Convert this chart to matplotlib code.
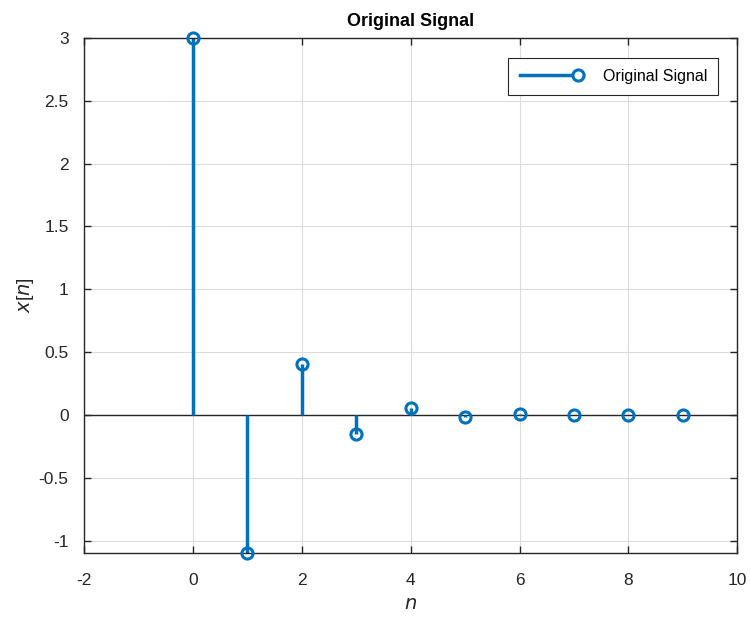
import matplotlib
matplotlib.use("Agg")
import matplotlib.pyplot as plt
from matplotlib.legend_handler import HandlerBase
from matplotlib.lines import Line2D

plt.rcParams["font.family"] = ["Liberation Sans", "DejaVu Sans"]
plt.rcParams["axes.unicode_minus"] = False

BLUE = "#0072BD"
DARK = "#262626"

n = [0, 1, 2, 3, 4, 5, 6, 7, 8, 9]
x = [3.0, -1.1, 0.406, -0.149, 0.054, -0.02, 0.0073, -0.0027, 0.001, -0.0004]


class LineMarkerEnd(HandlerBase):
    # MATLAB-style legend entry: line with the marker at its right end
    def create_artists(self, legend, orig_handle, xdescent, ydescent,
                       width, height, fontsize, trans):
        y = height / 2 - ydescent
        line = Line2D([-xdescent, width - xdescent], [y, y],
                      color=BLUE, lw=2.5, transform=trans)
        mark = Line2D([width - xdescent - 4], [y], marker="o", ms=8,
                      mfc="white", mec=BLUE, mew=2.2, transform=trans)
        return [line, mark]


fig = plt.figure(figsize=(7.5, 6.18), dpi=100)
ax = fig.add_axes([0.112, 0.105, 0.871, 0.8335])

markerline, stemlines, baseline = ax.stem(n, x)
plt.setp(stemlines, color=BLUE, linewidth=2.5)
plt.setp(markerline, color=BLUE, marker="o", markersize=8,
         markerfacecolor="none", markeredgewidth=2.2, clip_on=False,
         zorder=5)
stemlines.set_clip_on(False)
baseline.set_visible(False)
ax.axhline(0, color=DARK, lw=1.0, zorder=1)

ax.set_xlim(-2, 10)
ax.set_ylim(-1.1, 3)
ax.set_xticks(range(-2, 11, 2))
ax.set_yticks([-1, -0.5, 0, 0.5, 1, 1.5, 2, 2.5, 3])
ax.set_yticklabels(["-1", "-0.5", "0", "0.5", "1", "1.5", "2", "2.5", "3"])

ax.grid(True, color="#dcdcdc", lw=0.8)
ax.set_axisbelow(True)
ax.tick_params(direction="in", length=5, width=1, labelsize=12.5,
               colors=DARK, top=True, right=True)
ax.tick_params(axis="y", pad=11)
ax.tick_params(axis="x", pad=14)
for s in ax.spines.values():
    s.set_color(DARK)
    s.set_linewidth(1.0)

ax.set_xlabel(r"$\it{n}$", fontsize=14, color=DARK, labelpad=6)
ax.set_ylabel(r"$\it{x}$[$\it{n}$]", fontsize=14, color=DARK, labelpad=2)
ax.set_title("Original Signal", fontsize=13, fontweight="bold",
             color="black", pad=9)

proxy = Line2D([], [])
leg = ax.legend([proxy], ["Original Signal"], handler_map={Line2D: LineMarkerEnd()},
                loc="upper right", fontsize=11.5, fancybox=False,
                framealpha=1, edgecolor=DARK, borderpad=0.7,
                handlelength=4.0, handletextpad=1.2,
                bbox_to_anchor=(0.983, 0.977))
leg.get_frame().set_linewidth(0.8)

fig.savefig("out.png", dpi=100)
